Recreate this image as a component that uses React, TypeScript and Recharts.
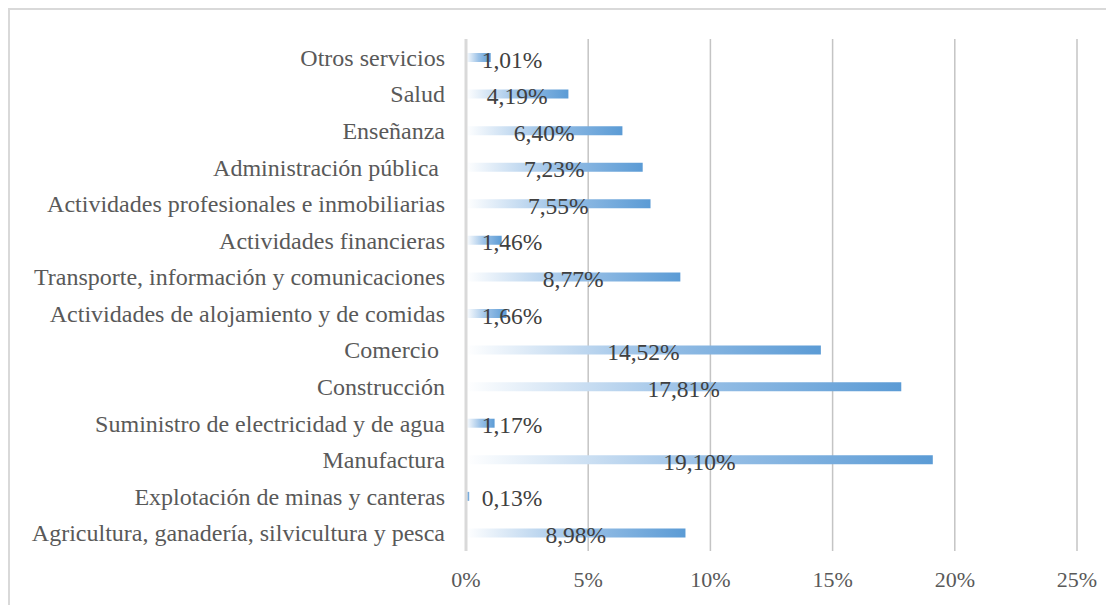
import { BarChart, Bar, XAxis, YAxis, CartesianGrid, ReferenceLine, LabelList } from "recharts";

// top to bottom, as shown
const sectors = [
  "Otros servicios",
  "Salud",
  "Enseñanza",
  "Administración pública\u00a0",
  "Actividades profesionales e inmobiliarias",
  "Actividades financieras",
  "Transporte, información y comunicaciones",
  "Actividades de alojamiento y de comidas",
  "Comercio\u00a0",
  "Construcción",
  "Suministro de electricidad y de agua",
  "Manufactura",
  "Explotación de minas y canteras",
  "Agricultura, ganadería, silvicultura y pesca",
];
const shares = [1.01, 4.19, 6.4, 7.23, 7.55, 1.46, 8.77, 1.66, 14.52, 17.81, 1.17, 19.1, 0.13, 8.98];
const xTicks = [0, 5, 10, 15, 20, 25];

const data = sectors.map((name, i) => ({ name, value: shares[i] }));

const FONT = "'Liberation Serif', 'Times New Roman', serif";

const fmt = (v: number) => v.toFixed(2).replace(".", ",") + "%";

const ValueLabel = (props: any) => {
  const { x, y, width, height, value } = props;
  const cx = Math.max(x + width / 2, x + 46);
  return (
    <text
      x={cx}
      y={y + height / 2 + 2}
      textAnchor="middle"
      dominantBaseline="central"
      fill="#404040"
      fontSize={23.5}
      fontFamily={FONT}
    >
      {fmt(value)}
    </text>
  );
};

export default function App() {
  return (
    <div
      style={{
        width: 1104,
        height: 595,
        borderTop: "2px solid #d9d9d9",
        borderLeft: "2px solid #d9d9d9",
        background: "#fff",
      }}
    >
      <BarChart
        width={1104}
        height={595}
        data={data}
        layout="vertical"
        margin={{ top: 29, right: 37, left: 0, bottom: 24 }}
      >
        <defs>
          <linearGradient id="barFill" x1="0" y1="0" x2="1" y2="0">
            <stop offset="0%" stopColor="#ffffff" />
            <stop offset="50%" stopColor="#9cc2e7" />
            <stop offset="100%" stopColor="#5b9bd5" />
          </linearGradient>
        </defs>
        <CartesianGrid horizontal={false} stroke="#c4c4c4" strokeWidth={1.5} />
        <XAxis
          type="number"
          domain={[0, 25]}
          ticks={xTicks}
          tickFormatter={(v) => `${v}%`}
          axisLine={false}
          tickLine={false}
          tickSize={0}
          tickMargin={20}
          height={30}
          tick={{ fill: "#595959", fontSize: 22, fontFamily: FONT }}
        />
        <YAxis
          type="category"
          dataKey="name"
          width={456}
          axisLine={false}
          tickLine={false}
          tickSize={0}
          tickMargin={21}
          interval={0}
          tick={{ fill: "#595959", fontSize: 24, fontFamily: FONT }}
        />
        <ReferenceLine x={0} stroke="#d9d9d9" strokeWidth={3} />
        <Bar dataKey="value" fill="url(#barFill)" barSize={9} isAnimationActive={false}>
          <LabelList dataKey="value" content={ValueLabel} />
        </Bar>
      </BarChart>
    </div>
  );
}
